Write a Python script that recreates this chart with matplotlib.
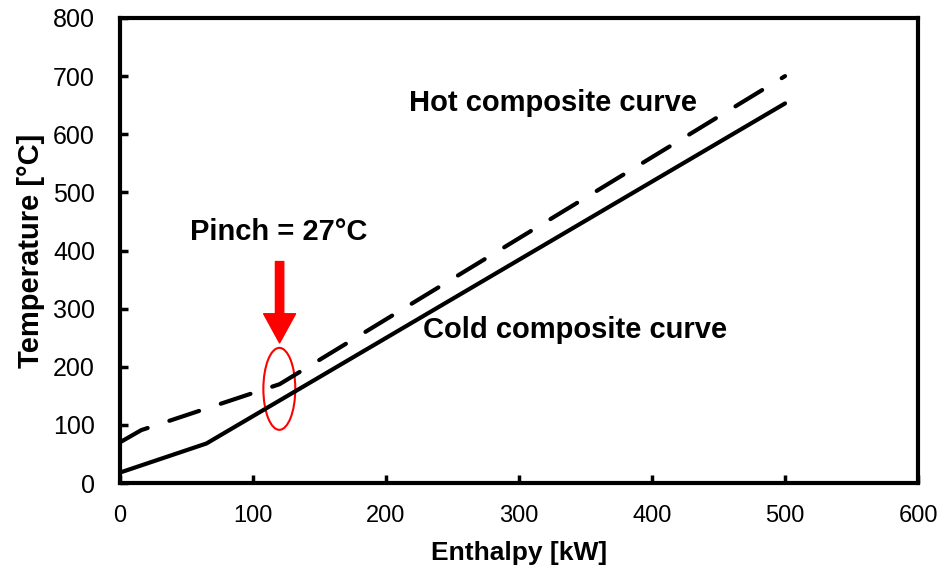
import matplotlib
matplotlib.use("Agg")
import matplotlib.pyplot as plt
from matplotlib.patches import Ellipse

plt.rcParams['font.family'] = ['Liberation Sans', 'DejaVu Sans']

# composite curves
hot_h = [0, 16, 120, 500]
hot_t = [70, 91, 170, 700]
cold_h = [0, 65, 500]
cold_t = [18, 68, 653]

x_ticks = [0, 100, 200, 300, 400, 500, 600]
y_ticks = [0, 100, 200, 300, 400, 500, 600, 700, 800]

fig = plt.figure(figsize=(9.47, 5.80), dpi=100)
ax = fig.add_axes([0.1267, 0.1672, 0.8427, 0.8018])

ax.plot(hot_h, hot_t, color='black', lw=3, dashes=(7.5, 5.5),
        dash_capstyle='round', solid_joinstyle='round')
ax.plot(cold_h, cold_t, color='black', lw=3, solid_capstyle='round',
        solid_joinstyle='round')

ax.set_xlim(0, 600)
ax.set_ylim(0, 800)
ax.set_xticks(x_ticks)
ax.set_yticks(y_ticks)
ax.tick_params(direction='in', length=6, width=2.5)
ax.tick_params(axis='x', labelsize=17, pad=16)
ax.tick_params(axis='y', labelsize=18, pad=18)
for s in ax.spines.values():
    s.set_linewidth(3)

ax.set_xlabel('Enthalpy [kW]', fontsize=19, fontweight='bold', labelpad=10)
ax.set_ylabel('Temperature [°C]', fontsize=21, fontweight='bold', labelpad=6)

ax.text(217, 654, 'Hot composite curve', fontsize=21, fontweight='bold',
        va='center', ha='left')
ax.text(228, 263, 'Cold composite curve', fontsize=21, fontweight='bold',
        va='center', ha='left')
ax.text(53, 432, 'Pinch = 27°C', fontsize=21, fontweight='bold',
        va='center', ha='left')

# pinch marker
ax.add_patch(Ellipse((119.8, 162), 24, 141, fill=False, edgecolor='red', lw=1.5))
ax.annotate('', xy=(120, 241), xytext=(120, 381),
            arrowprops=dict(arrowstyle='simple,head_length=21,head_width=23,tail_width=6',
                            mutation_scale=1, color='red', shrinkA=0, shrinkB=0))

fig.savefig('out.png', dpi=100)
